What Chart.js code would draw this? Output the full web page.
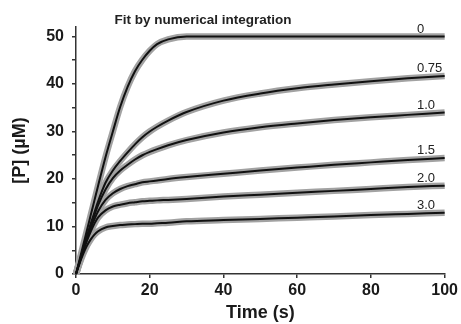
<!DOCTYPE html>
<html>
<head>
<meta charset="utf-8">
<script src="https://cdn.jsdelivr.net/npm/chart.js@4"></script>
<style>
  html, body { margin: 0; padding: 0; background: #fff; }
  #wrap { width: 461px; height: 324px; }
</style>
</head>
<body>
<div id="wrap"><canvas id="kinChart"></canvas></div>
<script>
// time points (s)
const times = [0, 1, 2, 3, 4, 5, 6, 8, 10, 12, 14, 16, 18, 20, 22, 25, 30, 40, 50, 60, 70, 80, 90, 100];

// [P] (uM), one array per inhibitor level
const p0   = [0, 3.1, 6.2, 9.3, 12.4, 15.5, 18.6, 24.6, 30.0, 35.2, 39.4, 42.7, 45.1, 47.0, 48.4, 49.4, 50.0, 50, 50, 50, 50, 50, 50, 50];
const p075 = [0, 2.8, 5.5, 8.1, 10.6, 13.0, 15.3, 19.2, 21.8, 23.8, 25.6, 27.3, 28.8, 30.0, 31.0, 32.3, 34.1, 36.5, 38.0, 39.1, 39.9, 40.6, 41.2, 41.7];
const p10  = [0, 2.7, 5.3, 7.8, 10.2, 12.4, 14.5, 17.8, 20.2, 21.8, 23.0, 24.1, 25.0, 25.7, 26.3, 27.1, 28.2, 29.8, 30.9, 31.7, 32.4, 33.0, 33.5, 34.0];
const p15  = [0, 2.6, 5.1, 7.5, 9.6, 11.5, 13.2, 15.6, 17.0, 17.9, 18.5, 18.9, 19.3, 19.5, 19.7, 20.0, 20.4, 21.1, 21.8, 22.4, 23.0, 23.5, 24.0, 24.4];
const p20  = [0, 2.5, 4.9, 7.0, 8.9, 10.6, 11.9, 13.4, 14.2, 14.6, 14.9, 15.1, 15.3, 15.4, 15.5, 15.6, 15.8, 16.3, 16.7, 17.1, 17.5, 17.9, 18.3, 18.6];
const p30  = [0, 2.3, 4.3, 6.0, 7.3, 8.3, 9.0, 9.8, 10.1, 10.3, 10.4, 10.5, 10.6, 10.6, 10.7, 10.8, 11.1, 11.35, 11.6, 11.85, 12.1, 12.4, 12.65, 12.9];

const curveLabels = ['0', '0.75', '1.0', '1.5', '2.0', '3.0'];
const curves = [p0, p075, p10, p15, p20, p30];

const xTicks = [0, 20, 40, 60, 80, 100];

const toPoints = arr => arr.map((v, i) => ({ x: times[i], y: v }));

const datasets = [];
curves.forEach((arr, i) => {
  // fitted curve (black, on top)
  datasets.push({
    label: 'fit ' + curveLabels[i],
    data: toPoints(arr),
    borderColor: '#111',
    borderWidth: 2,
    pointRadius: 0,
    cubicInterpolationMode: 'monotone',
    clip: false,
    order: 1
  });
  // measured trace (thick grey)
  datasets.push({
    label: 'data ' + curveLabels[i],
    data: toPoints(arr),
    borderColor: '#a2a2a2',
    borderWidth: 6.5,
    pointRadius: 0,
    cubicInterpolationMode: 'monotone',
    clip: false,
    order: 2
  });
});

// writes the inhibitor level above the right end of each curve, plus the title
const curveText = {
  id: 'curveText',
  afterDraw(chart) {
    const { ctx, scales } = chart;
    ctx.save();
    ctx.fillStyle = '#222';
    ctx.font = '13px "Liberation Sans", Arial, sans-serif';
    ctx.textAlign = 'left';
    ctx.textBaseline = 'alphabetic';
    curves.forEach((arr, i) => {
      const y = scales.y.getPixelForValue(arr[arr.length - 1]);
      ctx.fillText(curveLabels[i], scales.x.getPixelForValue(92.5), y - 4);
    });
    ctx.font = 'bold 13.5px "Liberation Sans", Arial, sans-serif';
    ctx.textAlign = 'center';
    ctx.textBaseline = 'middle';
    ctx.fillText('Fit by numerical integration', 203, 20);
    ctx.restore();
  }
};

const tickFont = { family: '"Liberation Sans", Arial, sans-serif', size: 16, weight: 'bold' };
const titleFont = { family: '"Liberation Sans", Arial, sans-serif', size: 18, weight: 'bold' };

new Chart(document.getElementById('kinChart'), {
  type: 'line',
  data: { datasets },
  options: {
    responsive: true,
    maintainAspectRatio: false,
    animation: false,
    layout: { padding: { top: 27, right: 14, left: 9, bottom: 0 } },
    scales: {
      x: {
        type: 'linear',
        min: 0,
        max: 100,
        afterBuildTicks: scale => { scale.ticks = xTicks.map(v => ({ value: v })); },
        afterFit: scale => { scale.height = 50; },
        grid: { drawOnChartArea: false, drawTicks: true, tickLength: 4, color: '#333', lineWidth: 1.5 },
        border: { color: '#333', width: 1.5 },
        ticks: { color: '#1a1a1a', font: tickFont, padding: 3, maxRotation: 0 },
        title: { display: true, text: 'Time (s)', color: '#1a1a1a', font: titleFont, padding: { top: 0, bottom: 0 } }
      },
      y: {
        min: 0,
        max: 52,
        afterFit: scale => { scale.width = 67; },
        grid: { drawOnChartArea: false, drawTicks: true, tickLength: 4, color: '#333', lineWidth: 1.5 },
        border: { color: '#333', width: 1.5 },
        ticks: {
          stepSize: 5,
          includeBounds: false,
          color: '#1a1a1a',
          font: tickFont,
          padding: 8,
          callback: v => (v % 10 === 0 ? v : '')
        },
        title: { display: true, text: '[P] (µM)', color: '#1a1a1a', font: titleFont, padding: { top: 0, bottom: 0 } }
      }
    },
    plugins: {
      legend: { display: false },
      tooltip: { enabled: false }
    }
  },
  plugins: [curveText]
});
</script>
</body>
</html>
